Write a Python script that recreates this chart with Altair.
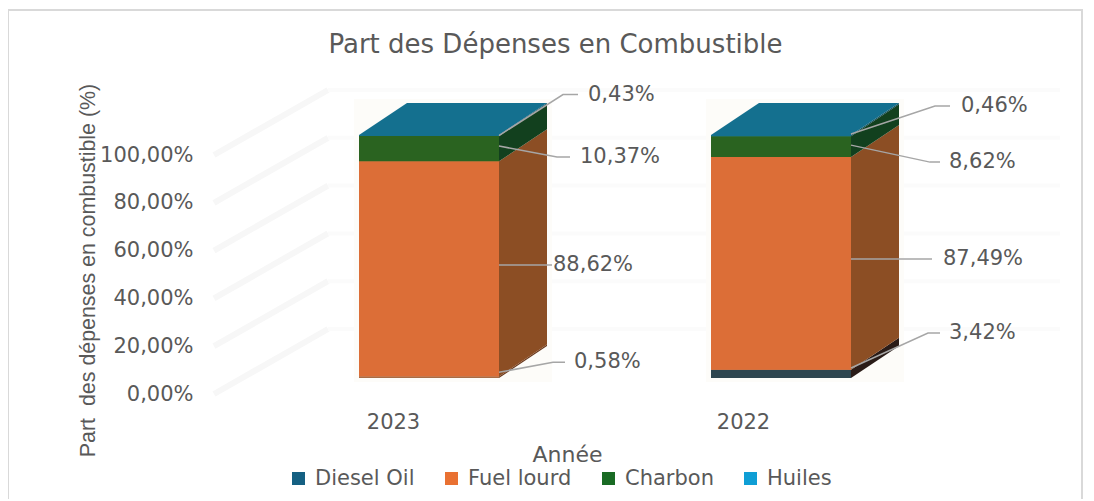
import altair as alt
import pandas as pd

# ---- values (stack order: bottom to top) ----
YEARS = ["2023", "2022"]
SERIES = ["Huiles", "Fuel lourd", "Charbon", "Diesel Oil"]
HUILES = [0.58, 3.42]
FUEL = [88.62, 87.49]
CHARBON = [10.37, 8.62]
DIESEL = [0.43, 0.46]
LEVELS = [0, 20, 40, 60, 80, 100]
LABELS = {"Huiles": ["0,58%", "3,42%"], "Fuel lourd": ["88,62%", "87,49%"],
          "Charbon": ["10,37%", "8,62%"], "Diesel Oil": ["0,43%", "0,46%"]}
LEGEND_ORDER = ["Diesel Oil", "Fuel lourd", "Charbon", "Huiles"]
LEGEND_COLORS = ["#156082", "#E97132", "#196B24", "#0F9ED5"]

# ---- layout (page pixels of the plot frame and scale calibration) ----
PX_L, PX_R, PX_T, PX_B = 8, 1083, 9, 499
W, H = PX_R - PX_L, PX_B - PX_T
BAR_PX_0, BAR_PX_PER = 378.0, 2.43      # front face: px of 0 %, px per %
AX_PX_0, AX_PX_PER = 394.0, 2.39        # axis labels
BX_0, BX_PER = 429.0, 352.0             # bar category centres
LX_0, LX_PER = 393.0, 350.0             # axis category labels
BAR_W = 140 / BX_PER
DEPTH_X = 48 / BX_PER
DEPTH_Y = 32 / BAR_PX_PER
HALO_X = 5 / BX_PER
HALO_Y = 4 / BAR_PX_PER

bar_x = alt.Scale(domain=[(PX_L - BX_0) / BX_PER, (PX_R - BX_0) / BX_PER], nice=False, zero=False)
bar_y = alt.Scale(domain=[(BAR_PX_0 - PX_B) / BAR_PX_PER, (BAR_PX_0 - PX_T) / BAR_PX_PER], nice=False, zero=False)
ax_x = alt.Scale(domain=[(PX_L - LX_0) / LX_PER, (PX_R - LX_0) / LX_PER], nice=False, zero=False)
ax_y = alt.Scale(domain=[(AX_PX_0 - PX_B) / AX_PX_PER, (AX_PX_0 - PX_T) / AX_PX_PER], nice=False, zero=False)

FRONT = {("2023", "Huiles"): "#A96C45", ("2022", "Huiles"): "#2E4650"}
FRONT_DEF = {"Fuel lourd": "#DC6E37", "Charbon": "#2A6320", "Diesel Oil": "#14708F"}
SIDE = {("2023", "Huiles"): "#6B3A1E", ("2022", "Huiles"): "#2A1C18"}
SIDE_DEF = {"Fuel lourd": "#8C4E24", "Charbon": "#12401E", "Diesel Oil": "#0E4A52"}
TOP_COLOR = "#14708F"

# leader shape, in px from the anchor: start dy, elbow dx, elbow dy, end dx, label dx
LEADER = {
    ("2023", "Diesel Oil"): (0, 64, -41, 79, 89),
    ("2023", "Charbon"): (-2.6, 58, 11, 71, 81),
    ("2023", "Fuel lourd"): (-4, 53, 0, 53, 54),
    ("2023", "Huiles"): (-5, 54, -10, 66, 75),
    ("2022", "Diesel Oil"): (-1.5, 84, -28, 99, 110),
    ("2022", "Charbon"): (-1.5, 79, 17, 89, 98),
    ("2022", "Fuel lourd"): (-4.4, 81, 0, 81, 92),
    ("2022", "Huiles"): (-5.8, 77, -35, 89, 98),
}

# ---- build tables ----
front, side, top, lead, text, halo = [], [], [], [], [], []
for i, yr in enumerate(YEARS):
    left, right = i - BAR_W / 2, i + BAR_W / 2
    base = 0.0
    for name, vals in zip(SERIES, [HUILES, FUEL, CHARBON, DIESEL]):
        v = vals[i]
        hi = base + v
        key = (yr, name)
        front.append(dict(series=name, x=left, x2=right, y=base, y2=hi,
                          col=FRONT.get(key, FRONT_DEF.get(name))))
        for dx, dy in ((0, 0), (DEPTH_X, DEPTH_Y)):
            side.append(dict(id=f"{yr}{name}", x=right + dx, y=base + dy, y2=hi + dy,
                             col=SIDE.get(key, SIDE_DEF.get(name))))
        sdy, edx, edy, endx, ldx = LEADER[key]
        ay = (base + hi) / 2 - sdy / BAR_PX_PER
        ey = ay - edy / BAR_PX_PER
        for order, (px, yy) in enumerate(((0, ay), (edx, ey), (endx, ey))):
            lead.append(dict(id=f"{yr}{name}", o=order, x=right + px / BX_PER, y=yy))
        text.append(dict(x=right + ldx / BX_PER, y=ey, t=LABELS[name][i]))
        base = hi
    for px, lo, up in ((left, base, base), (left + DEPTH_X, base, base + DEPTH_Y),
                       (right, base, base + DEPTH_Y), (right + DEPTH_X, base + DEPTH_Y, base + DEPTH_Y)):
        top.append(dict(id=yr, x=px, y=lo, y2=up))
    halo.append(dict(x=left - HALO_X, x2=right + DEPTH_X + HALO_X, y=-HALO_Y, y2=base + DEPTH_Y + HALO_Y))

wall_a, wall_b = [], []
WALL_L, WALL_M, WALL_R = (214 - LX_0) / LX_PER, (328 - LX_0) / LX_PER, (1060 - LX_0) / LX_PER
WALL_DY = 65 / AX_PX_PER
for lv in LEVELS:
    wall_a += [dict(l=lv, x=WALL_L, y=lv), dict(l=lv, x=WALL_M, y=lv + WALL_DY)]
    wall_b += [dict(l=lv, x=WALL_M, y=lv + WALL_DY), dict(l=lv, x=WALL_R, y=lv + WALL_DY)]

TITLE = "Part des Dépenses en Combustible"
YTITLE = "Part\u00a0 des dépenses en combustible (%)"
XTITLE = "Année"
TXT = "#595959"
FONT = "DejaVu Sans"

yr_expr = "datum.value < 0.5 ? '%s' : '%s'" % (YEARS[0], YEARS[1])

# axes + wall gridlines
axes = alt.Chart(pd.DataFrame(wall_a)).mark_line(color="#f7f7f7", strokeWidth=6).encode(
    x=alt.X("x:Q", scale=ax_x, title=XTITLE, axis=alt.Axis(
        values=[0, 1], labelExpr=yr_expr, domain=False, ticks=False, grid=False,
        offset=-(PX_B - 411), labelPadding=0, labelFont=FONT, labelFontSize=21, labelColor=TXT,
        titleFont=FONT, titleFontSize=22, titleColor=TXT, titleFontWeight="normal",
        titleX=567 - PX_L, titleY=43, titleBaseline="middle", titleAlign="center")),
    y=alt.Y("y:Q", scale=ax_y, title=YTITLE, axis=alt.Axis(
        values=LEVELS, labelExpr="replace(format(datum.value, '.2f'), '.', ',') + '%'",
        domain=False, ticks=False, grid=False, offset=-(197 - PX_L), labelPadding=4,
        labelFont=FONT, labelFontSize=21, labelColor=TXT,
        titleFont="Liberation Sans", titleFontSize=21.4, titleColor=TXT, titleFontWeight="normal",
        titleX=88 - 197, titleY=270 - PX_T, titleBaseline="middle", titleAlign="center")),
    detail="l:N",
)

wall2 = alt.Chart(pd.DataFrame(wall_b)).mark_line(color="#fbfbfb", strokeWidth=4).encode(
    x=alt.X("x:Q", scale=ax_x, axis=None), y=alt.Y("y:Q", scale=ax_y, axis=None), detail="l:N")

X = alt.X("x:Q", scale=bar_x, axis=None)
Y = alt.Y("y:Q", scale=bar_y, axis=None)

halos = alt.Chart(pd.DataFrame(halo)).mark_rect(color="#FDFCF9").encode(x=X, x2="x2:Q", y=Y, y2="y2:Q")

sides = alt.Chart(pd.DataFrame(side)).mark_area().encode(
    x=X, y=Y, y2="y2:Q", detail="id:N", color=alt.Color("col:N", scale=None, legend=None))

tops = alt.Chart(pd.DataFrame(top)).mark_area(color=TOP_COLOR).encode(
    x=X, y=Y, y2="y2:Q", detail="id:N")

legend_layer = alt.Chart(pd.DataFrame(front)).mark_rect().encode(
    x=X, x2="x2:Q", y=Y, y2="y2:Q",
    color=alt.Color("series:N", scale=alt.Scale(domain=LEGEND_ORDER, range=LEGEND_COLORS),
                    legend=alt.Legend(orient="none", legendX=292 - PX_L - 4, legendY=468 - PX_T, title=None,
                                      direction="horizontal", columns=4, columnPadding=26,
                                      symbolType="square", symbolSize=170, symbolStrokeWidth=0,
                                      symbolOpacity=1, labelFont=FONT, labelFontSize=21, labelColor=TXT,
                                      labelOffset=6, gridAlign="none")),
)

fronts = alt.Chart(pd.DataFrame(front)).mark_rect().encode(
    x=X, x2="x2:Q", y=Y, y2="y2:Q", color=alt.Color("col:N", scale=None, legend=None))

leaders = alt.Chart(pd.DataFrame(lead)).mark_line(color="#A6A6A6", strokeWidth=1.5).encode(
    x=X, y=Y, detail="id:N", order="o:Q")

labels = alt.Chart(pd.DataFrame(text)).mark_text(
    align="left", baseline="middle", font=FONT, fontSize=21, color=TXT).encode(
    x=X, y=Y, text="t:N")

one = alt.Chart(pd.DataFrame({"a": [0]}))
FR = dict(color="#D9D9D9", strokeWidth=2)
frame = alt.layer(
    one.mark_rule(**FR).encode(x=alt.value(0), x2=alt.value(W), y=alt.value(1)),
    one.mark_rule(**FR).encode(x=alt.value(0), y=alt.value(0), y2=alt.value(H)),
    one.mark_rule(**FR).encode(x=alt.value(W - 1), y=alt.value(0), y2=alt.value(H)),
)

chart = alt.layer(axes, wall2, halos, sides, tops, legend_layer, fronts, leaders, labels, frame).resolve_scale(
    x="independent", y="independent", color="independent"
).properties(
    width=W, height=H,
    autosize=alt.AutoSizeParams(type="none"),
    padding={"left": 0, "top": 1, "right": 0, "bottom": 0},
    title=alt.Title(TITLE, font=FONT, fontSize=26, fontWeight="normal", color=TXT,
                    anchor="middle", dx=10, dy=54),
).configure_view(stroke=None).configure_axis(grid=False)

chart.save("out.html", embed_options={"renderer": "svg", "actions": False})
